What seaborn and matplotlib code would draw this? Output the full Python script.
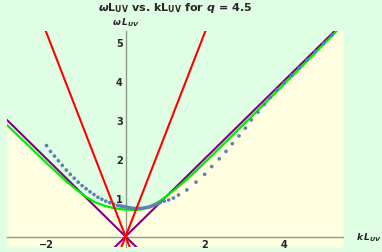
import numpy as np
import matplotlib
matplotlib.use('Agg')
import matplotlib.pyplot as plt
from matplotlib.ticker import MultipleLocator, FixedLocator
import seaborn as sns

# ---- data ----
green_k = [-3.0, -2.5, -2.0, -1.5, -1.25, -1.0, -0.75, -0.5, -0.25, 0.0, 0.2, 0.4,
           0.6, 0.8, 1.0, 1.25, 1.5, 1.75, 2.0, 2.5, 3.0, 3.5, 4.0, 4.5, 5.0, 5.5]
green_w = [2.87, 2.38, 1.89, 1.42, 1.21, 1.02, 0.87, 0.78, 0.72, 0.69, 0.685, 0.70,
           0.76, 0.87, 1.01, 1.21, 1.43, 1.66, 1.90, 2.40, 2.90, 3.40, 3.91, 4.42, 4.94, 5.46]

dot_k = [-2.0, -1.9, -1.8, -1.7, -1.6, -1.5, -1.4, -1.3, -1.2, -1.1, -1.0, -0.9, -0.8,
         -0.7, -0.6, -0.5, -0.4, -0.3, -0.2, -0.15, -0.1, -0.05, 0.0, 0.05, 0.1, 0.15,
         0.2, 0.25, 0.3, 0.35, 0.4, 0.45, 0.5, 0.55, 0.6, 0.65, 0.7, 0.75, 0.8, 0.87,
         0.98, 1.09, 1.21, 1.34, 1.55, 1.78, 2.0, 2.18, 2.37, 2.54, 2.70, 2.87, 3.03,
         3.18, 3.35, 3.51, 3.66, 3.83, 4.01, 4.21, 4.40, 4.59, 4.80, 5.01, 5.22]
dot_w = [2.34, 2.19, 2.07, 1.95, 1.83, 1.71, 1.60, 1.50, 1.40, 1.31, 1.23, 1.15, 1.08,
         1.01, 0.96, 0.91, 0.87, 0.83, 0.80, 0.79, 0.78, 0.77, 0.76, 0.75, 0.74, 0.73,
         0.725, 0.72, 0.72, 0.72, 0.725, 0.73, 0.74, 0.75, 0.76, 0.78, 0.80, 0.82, 0.84, 0.87,
         0.91, 0.94, 0.99, 1.07, 1.20, 1.40, 1.60, 1.80, 2.00, 2.19, 2.39, 2.59, 2.79,
         3.00, 3.20, 3.40, 3.58, 3.77, 3.95, 4.15, 4.35, 4.54, 4.76, 4.97, 5.18]

# light cone  w = +-k
cone_k = [-3.0, 5.5]
cone_up_w = [-3.0, 5.5]
cone_dn_w = [3.0, -5.5]

# red lines  w = +-2.62 k
red_k = [-2.1, 2.1]
red_up_w = [-5.50, 5.50]
red_dn_w = [5.50, -5.50]

xlim = (-3.0, 5.5)
ylim = (-0.27, 5.29)

# ---- style ----
sns.set_style('white')
plt.rcParams['font.family'] = ['DejaVu Sans']
plt.rcParams['font.weight'] = 'bold'
plt.rcParams['mathtext.fontset'] = 'custom'
plt.rcParams['mathtext.rm'] = 'DejaVu Sans:bold'
plt.rcParams['mathtext.it'] = 'DejaVu Sans:bold:italic'
plt.rcParams['mathtext.bf'] = 'DejaVu Sans:bold'

bg_green = '#e0fee4'
bg_yellow = '#fffee0'
axis_col = '#8f9a8f'

fig = plt.figure(figsize=(3.82, 2.53), dpi=100, facecolor=bg_green)
ax = fig.add_axes([7 / 382, 5 / 253, 336 / 382, 216 / 253])
ax.set_facecolor(bg_green)

ax.fill_between(green_k, ylim[0], green_w, color=bg_yellow, linewidth=0, zorder=0)

sns.lineplot(x=cone_k, y=cone_up_w, color='#800080', linewidth=1.5, ax=ax, zorder=2)
sns.lineplot(x=cone_k, y=cone_dn_w, color='#800080', linewidth=1.5, ax=ax, zorder=2)
sns.lineplot(x=green_k, y=green_w, color='#00ee00', linewidth=1.6, ax=ax, zorder=3)
sns.scatterplot(x=dot_k, y=dot_w, color='#5e81b5', s=7, edgecolor='none', ax=ax, zorder=4)
sns.lineplot(x=red_k, y=red_up_w, color='#ff0000', linewidth=1.5, ax=ax, zorder=5)
sns.lineplot(x=red_k, y=red_dn_w, color='#ff0000', linewidth=1.5, ax=ax, zorder=5)

ax.set_xlim(*xlim)
ax.set_ylim(*ylim)

# Mathematica-like axes through the origin
for side in ['top', 'right']:
    ax.spines[side].set_visible(False)
ax.spines['left'].set_position(('data', 0))
ax.spines['bottom'].set_position(('data', 0))
for side in ['left', 'bottom']:
    ax.spines[side].set_color(axis_col)
    ax.spines[side].set_linewidth(1.0)
    ax.spines[side].set_zorder(1)

ax.xaxis.set_major_locator(FixedLocator([-2, 2, 4]))
ax.xaxis.set_minor_locator(MultipleLocator(0.5))
ax.yaxis.set_major_locator(FixedLocator([1, 2, 3, 4, 5]))
ax.yaxis.set_minor_locator(MultipleLocator(0.2))
ax.tick_params(which='major', direction='in', length=4, width=0.8, color=axis_col,
               labelsize=7, pad=2)
ax.tick_params(which='minor', direction='in', length=2.5, width=0.6, color=axis_col)
ax.set_xticklabels(['\u22122', '2', '4'])
ax.set_xlabel('')
ax.set_ylabel('')

ax.text(5.82, 0, r'$k\,L_{UV}$', fontsize=6.5, ha='left', va='center', clip_on=False)
ax.text(0, 5.36, r'$\omega\,L_{UV}$', fontsize=6.5, ha='center', va='bottom', clip_on=False)

fig.text(0.458, 0.968,
         r'$\omega$L$_{\mathrm{UV}}$ vs. kL$_{\mathrm{UV}}$ for $q$ = 4.5',
         fontsize=8, fontweight='bold', ha='center', va='center')

fig.savefig('out.png', dpi=100, facecolor=bg_green)
